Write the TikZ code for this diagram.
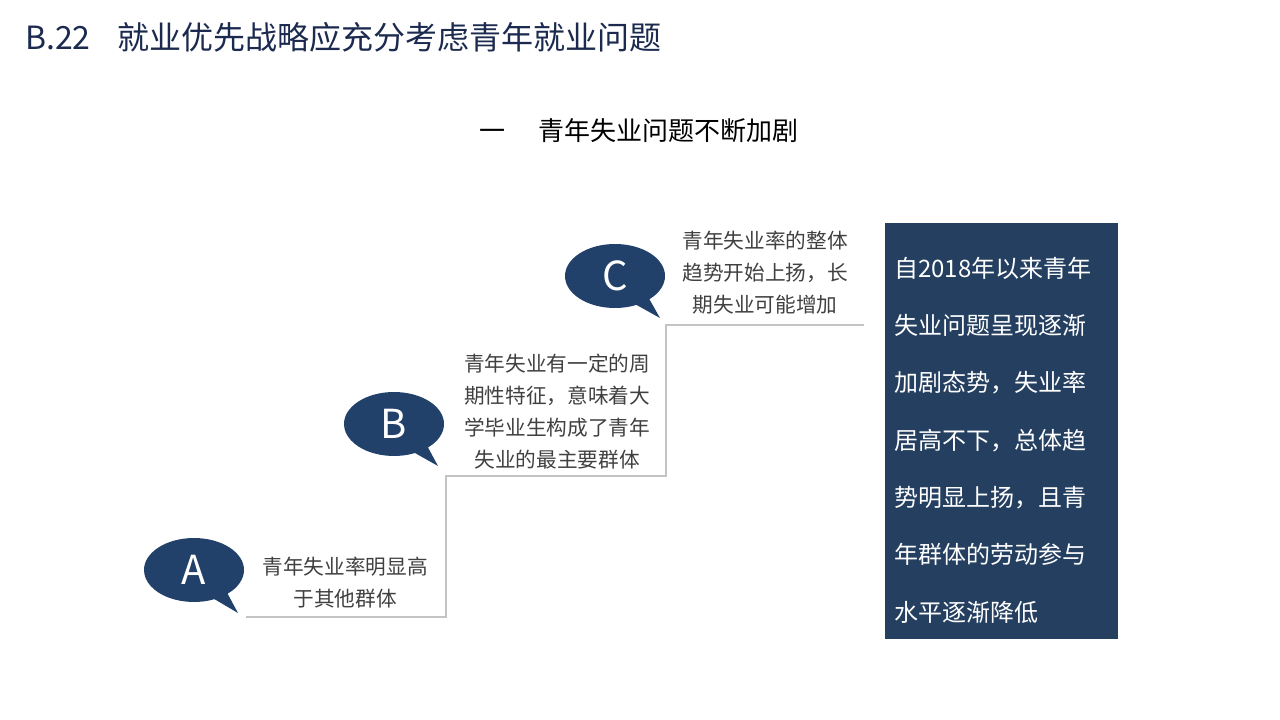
\documentclass[tikz,border=0pt]{standalone}
\usepackage{fontspec}
\setmainfont{Noto Sans CJK SC}
\usepackage{xcolor}
\usetikzlibrary{shapes.geometric,shapes.callouts,positioning}

\definecolor{navy}{HTML}{21406A}
\definecolor{panelblue}{HTML}{243F60}
\definecolor{titleblue}{HTML}{1B2A4E}
\definecolor{notegray}{HTML}{404040}
\definecolor{stairgray}{HTML}{C4C4C4}

\begin{document}
\begin{tikzpicture}[
    x=0.75pt, y=-0.75pt,
    bubble/.style={ellipse callout, fill=navy, text=white, inner sep=0pt,
        minimum width=75pt, minimum height=48pt, callout pointer arc=18,
        font=\fontsize{30}{30}\selectfont},
    note/.style={align=center, text=notegray, font=\fontsize{15.5}{24}\selectfont},
    stair/.style={draw=stairgray, line width=1.6pt},
    stairshadow/.style={draw=black!12, line width=1.6pt},
    panel/.style={fill=panelblue, minimum width=174.75pt, minimum height=312pt, inner sep=0pt},
    paneltext/.style={align=left, text=white, inner sep=0pt, font=\fontsize{18}{43}\selectfont}
]
\useasboundingbox (0,0) rectangle (1280,720);

% titles
\node[anchor=west, inner sep=0pt, text=titleblue, font=\fontsize{24}{24}\selectfont] (title) at (25,37)
    {B.22\hspace{20pt}就业优先战略应充分考虑青年就业问题};
\node[inner sep=0pt, text=black, font=\fontsize{19.5}{20}\selectfont] (subtitle) at (639,131)
    {一\hspace{25pt}青年失业问题不断加剧};

% stairs
\coordinate (s0) at (246,617);
\coordinate (s1) at (446,617);
\coordinate (s2) at (446,476);
\coordinate (s3) at (666,476);
\coordinate (s4) at (666,325);
\coordinate (s5) at (864,325);
\draw[stairshadow, shift={(1.5,1.5)}] (s0) -- (s1) -- (s2) -- (s3) -- (s4) -- (s5);
\draw[stair] (s0) -- (s1) -- (s2) -- (s3) -- (s4) -- (s5);

% bubbles
\node[bubble, callout absolute pointer={(238,613)}] (bubA) at (194,570) {A};
\node[bubble, callout absolute pointer={(438,466)}] (bubB) at (394,424) {B};
\node[bubble, callout absolute pointer={(660,318)}] (bubC) at (615,276) {C};

% notes
\node[note] (noteA) at (345,583) {青年失业率明显高\\于其他群体};
\node[note] (noteB) at (557,412) {青年失业有一定的周\\期性特征，意味着大\\学毕业生构成了青年\\失业的最主要群体};
\node[note] (noteC) at (765,273) {青年失业率的整体\\趋势开始上扬，长\\期失业可能增加};

% right panel
\node[panel] (panel) at (1001.5,431) {};
\node[paneltext, anchor=west] (summary) at (894,440)
    {自2018年以来青年\\失业问题呈现逐渐\\加剧态势，失业率\\居高不下，总体趋\\势明显上扬，且青\\年群体的劳动参与\\水平逐渐降低};
\end{tikzpicture}
\end{document}
